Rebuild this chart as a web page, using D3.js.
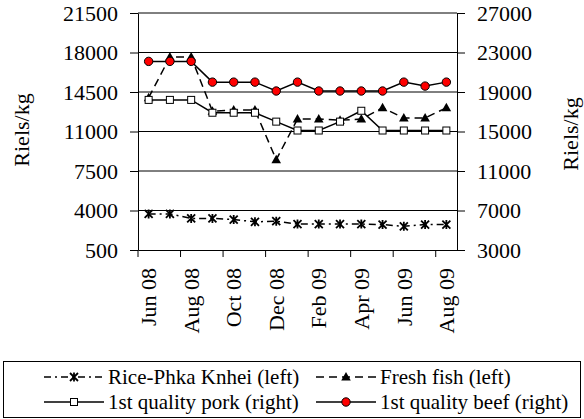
<!DOCTYPE html>
<html>
<head>
<meta charset="utf-8">
<script src="https://cdnjs.cloudflare.com/ajax/libs/d3/7.8.5/d3.min.js"></script>
<style>
  body { margin: 0; background: #fff; }
  text { font-family: "Liberation Serif" !important; }
</style>
</head>
<body>
<script>
// ---------------- data ----------------
var months = ["Jun 08", "Jul 08", "Aug 08", "Sep 08", "Oct 08", "Nov 08", "Dec 08", "Jan 09",
              "Feb 09", "Mar 09", "Apr 09", "May 09", "Jun 09", "Jul 09", "Aug 09"];
var tickMonths = ["Jun 08", "Aug 08", "Oct 08", "Dec 08", "Feb 09", "Apr 09", "Jun 09", "Aug 09"];

// left axis (Riels/kg)
var rice = [3700, 3700, 3300, 3300, 3200, 3000, 3050, 2800, 2800, 2800, 2800, 2750, 2600, 2750, 2750];
var fish = [14000, 17600, 17600, 12800, 12900, 12900, 8500, 12100, 12100, 12000, 12100, 13100, 12200, 12200, 13100];
// right axis (Riels/kg)
var pork = [18200, 18200, 18200, 16900, 16900, 16900, 16000, 15100, 15100, 16000, 17100, 15100, 15100, 15100, 15100];
var beef = [22100, 22100, 22100, 20000, 20000, 20000, 19100, 20000, 19100, 19100, 19100, 19100, 20000, 19600, 20000];

var leftTicks = [500, 4000, 7500, 11000, 14500, 18000, 21500];
var rightTicks = [3000, 7000, 11000, 15000, 19000, 23000, 27000];

var legendLabels = ["Rice-Phka Knhei (left)", "Fresh fish (left)",
                    "1st quality pork (right)", "1st quality beef (right)"];

// ---------------- layout ----------------
var svgWidth = 584, svgHeight = 419;
var plot = { left: 138, right: 457, top: 13, bottom: 250 };
var fontFam = "Liberation Serif";
var fontSize = "22px";

var svg = d3.select("body").append("svg")
  .attr("width", svgWidth)
  .attr("height", svgHeight);

var x = d3.scaleBand().domain(months).range([plot.left, plot.right]);
var yL = d3.scaleLinear().domain([500, 21500]).range([plot.bottom, plot.top]);
var yR = d3.scaleLinear().domain([3000, 27000]).range([plot.bottom, plot.top]);
var cx = function(i) { return x(months[i]) + x.bandwidth() / 2; };

// gridlines
svg.append("g").selectAll("line")
  .data(leftTicks.slice(1))
  .enter().append("line")
  .attr("x1", plot.left).attr("x2", plot.right)
  .attr("y1", d => yL(d)).attr("y2", d => yL(d))
  .attr("stroke", "#000").attr("stroke-width", 1);

// left axis
var leftAxis = svg.append("g")
  .attr("transform", `translate(${plot.left},0)`)
  .call(d3.axisLeft(yL).tickValues(leftTicks).tickFormat(d3.format("d"))
    .tickSize(8).tickPadding(12).tickSizeOuter(0));

// right axis
var rightAxis = svg.append("g")
  .attr("transform", `translate(${plot.right},0)`)
  .call(d3.axisRight(yR).tickValues(rightTicks).tickFormat(d3.format("d"))
    .tickSize(8).tickPadding(12).tickSizeOuter(0));

// bottom axis, ticks between categories, labels on category
var bw = x.bandwidth();
var bottomAxis = svg.append("g")
  .attr("transform", `translate(0,${plot.bottom})`)
  .call(d3.axisBottom(x).tickValues(tickMonths).tickSize(7).tickSizeOuter(0));
bottomAxis.selectAll(".tick line").attr("x1", -bw / 2).attr("x2", -bw / 2);
bottomAxis.selectAll(".tick text")
  .attr("transform", "rotate(-90)")
  .attr("x", -18).attr("y", 0).attr("dy", "0.35em")
  .style("text-anchor", "end");

[leftAxis, rightAxis, bottomAxis].forEach(function(a) {
  a.attr("font-family", null).attr("font-size", null);
  a.selectAll("text")
    .style("font-family", fontFam).style("font-size", fontSize)
    .attr("fill", "#000");
  a.selectAll("line, path").attr("stroke", "#000");
});

// axis titles
svg.append("text")
  .attr("transform", "translate(29,130) rotate(-90)")
  .style("text-anchor", "middle")
  .style("font-family", fontFam).style("font-size", fontSize)
  .text("Riels/kg");
svg.append("text")
  .attr("transform", "translate(578,134) rotate(-90)")
  .style("text-anchor", "middle")
  .style("font-family", fontFam).style("font-size", fontSize)
  .text("Riels/kg");

// ---------------- series ----------------
var starPath = "M-4,-4L4,4M-4,4L4,-4M0,-4.5L0,4.5";
var triPath = "M0,-5L4.8,3.5L-4.8,3.5Z";

function drawMarker(g, type) {
  if (type === "star") {
    g.append("path").attr("d", starPath).attr("stroke", "#000").attr("stroke-width", 1.8).attr("fill", "none");
  } else if (type === "tri") {
    g.append("path").attr("d", triPath).attr("fill", "#000");
  } else if (type === "square") {
    g.append("rect").attr("x", -3.5).attr("y", -3.5).attr("width", 7).attr("height", 7)
      .attr("fill", "#fff").attr("stroke", "#000").attr("stroke-width", 1);
  } else {
    g.append("circle").attr("r", 4.2).attr("fill", "#ff0000").attr("stroke", "#000").attr("stroke-width", 1);
  }
}

var series = [
  { values: rice, scale: yL, dash: "7,4,2,4", marker: "star" },
  { values: fish, scale: yL, dash: "8,5", marker: "tri" },
  { values: pork, scale: yR, dash: null, marker: "square" },
  { values: beef, scale: yR, dash: null, marker: "circle" }
];

series.forEach(function(s) {
  var line = d3.line()
    .x((d, i) => cx(i))
    .y(d => s.scale(d));
  svg.append("path")
    .datum(s.values)
    .attr("d", line)
    .attr("fill", "none")
    .attr("stroke", "#000")
    .attr("stroke-width", 1.5)
    .attr("stroke-dasharray", s.dash);
  s.values.forEach(function(v, i) {
    var g = svg.append("g").attr("transform", `translate(${cx(i)},${s.scale(v)})`);
    drawMarker(g, s.marker);
  });
});

// ---------------- legend ----------------
var legend = svg.append("g");
legend.append("rect")
  .attr("x", 3.5).attr("y", 361.5).attr("width", 577).attr("height", 56)
  .attr("fill", "#fff").attr("stroke", "#000").attr("stroke-width", 1);

var legendPos = [[44, 377], [316, 377], [44, 402], [316, 402]];
series.forEach(function(s, i) {
  var p = legendPos[i];
  var g = legend.append("g").attr("transform", `translate(${p[0]},${p[1]})`);
  g.append("line")
    .attr("x1", 0).attr("x2", 60).attr("y1", 0).attr("y2", 0)
    .attr("stroke", "#000").attr("stroke-width", 1.5)
    .attr("stroke-dasharray", s.dash);
  var m = g.append("g").attr("transform", "translate(30,0)");
  drawMarker(m, s.marker);
  g.append("text")
    .attr("x", 64).attr("y", 0).attr("dy", "0.33em")
    .style("font-family", fontFam).style("font-size", "21px")
    .text(legendLabels[i]);
});
</script>
</body>
</html>
